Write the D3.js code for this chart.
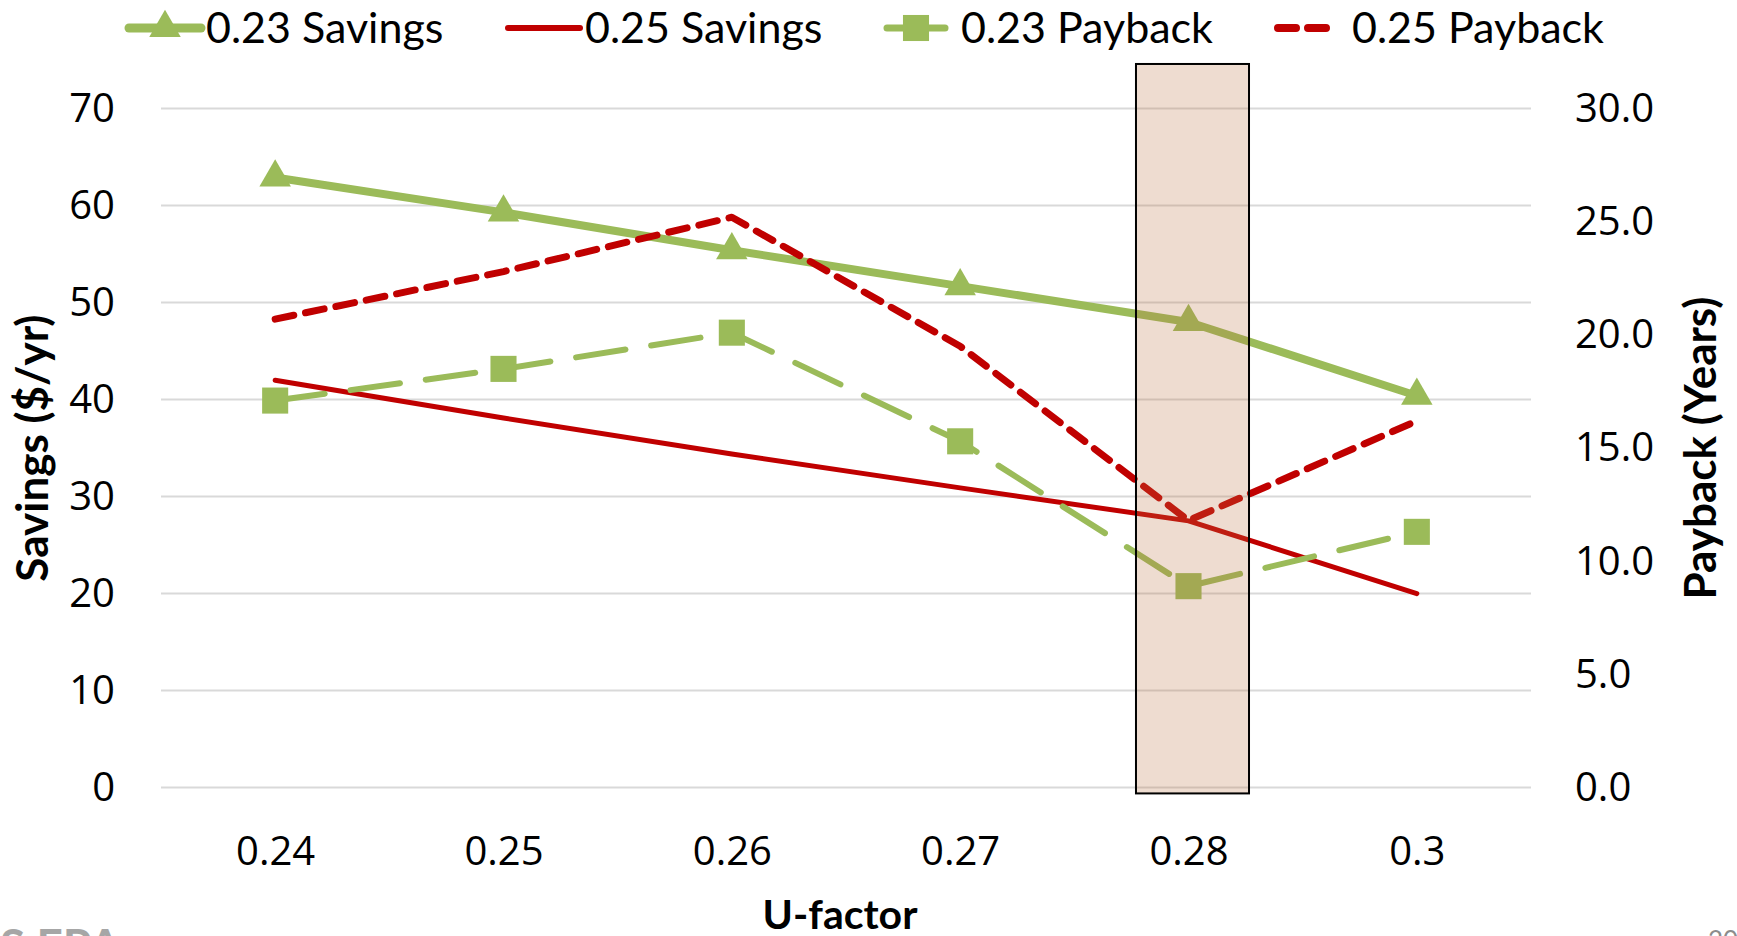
<!DOCTYPE html>
<meta charset="utf-8">
<body style="margin:0;background-color:white;">
<svg width="1737" height="936"></svg>
<script src="https://d3js.org/d3.v7.min.js"></script>
<script>

var uFactors = ["0.24", "0.25", "0.26", "0.27", "0.28", "0.3"];
var savings023 = [62.9, 59.3, 55.4, 51.7, 48.0, 40.4];
var savings025 = [42.0, 38.1, 34.4, 30.9, 27.5, 20.0];
var payback023 = [17.1, 18.5, 20.1, 15.3, 8.9, 11.3];
var payback025 = [20.7, 22.8, 25.2, 19.5, 11.8, 16.2];
var leftTicks = [0, 10, 20, 30, 40, 50, 60, 70];
var rightTicks = [0, 5, 10, 15, 20, 25, 30];
var highlightCat = "0.28";

var svg = d3.select("svg");
var green = "#9BBB59", red = "#C00000";
var plotLeft = 161, plotRight = 1531, plotTop = 108.6, plotBottom = 787.6;

var x = d3.scalePoint().domain(uFactors).range([plotLeft, plotRight]).padding(0.5);
var yL = d3.scaleLinear().domain([0, 70]).range([plotBottom, plotTop]);
var yR = d3.scaleLinear().domain([0, 30]).range([plotBottom, plotTop]);

// gridlines
svg.append('g').selectAll('line').data(leftTicks).enter().append('line')
	.attr('x1', plotLeft).attr('x2', plotRight)
	.attr('y1', d => yL(d)).attr('y2', d => yL(d))
	.attr('stroke', '#d9d9d9').attr('stroke-width', 2);

// axes (labels only)
var axL = svg.append('g').attr('transform', 'translate(' + (plotLeft - 46) + ',0)')
	.call(d3.axisLeft(yL).tickValues(leftTicks).tickSize(0).tickPadding(0));
var axR = svg.append('g').attr('transform', 'translate(' + (plotRight + 44) + ',0)')
	.call(d3.axisRight(yR).tickValues(rightTicks).tickFormat(d3.format('.1f')).tickSize(0).tickPadding(0));
var axB = svg.append('g').attr('transform', 'translate(0,' + (plotBottom + 47) + ')')
	.call(d3.axisBottom(x).tickSize(0).tickPadding(0));
[axL, axR, axB].forEach(function(a) {
	a.select('.domain').remove();
	a.selectAll('text').style('font-family', '"Open Sans", sans-serif').style('font-size', '40px').attr('fill', 'black');
});
axB.selectAll('text').attr('dy', '0.75em');

// axis titles
svg.append('text').attr('transform', 'translate(48,' + (plotTop + plotBottom) / 2 + ')rotate(-90)')
	.attr('text-anchor', 'middle').style('font-family', 'Lato, sans-serif').style('font-weight', 'bold')
	.style('font-size', '44px').text('Savings ($/yr)');
svg.append('text').attr('transform', 'translate(1716,' + (plotTop + plotBottom) / 2 + ')rotate(-90)')
	.attr('text-anchor', 'middle').style('font-family', 'Lato, sans-serif').style('font-weight', 'bold')
	.style('font-size', '44px').text('Payback (Years)');
svg.append('text').attr('x', (plotLeft + plotRight) / 2 - 6).attr('y', 929)
	.attr('text-anchor', 'middle').style('font-family', 'Lato, sans-serif').style('font-weight', 'bold')
	.style('font-size', '41px').text('U-factor');

// series
var series = [
	{name: '0.23 Savings', vals: savings023, y: yL, color: green, width: 8, dash: null, marker: d3.symbolTriangle, msize: 430},
	{name: '0.25 Savings', vals: savings025, y: yL, color: red, width: 5, dash: null, marker: null},
	{name: '0.23 Payback', vals: payback023, y: yR, color: green, width: 6, dash: '50,26', marker: d3.symbolSquare, msize: 680},
	{name: '0.25 Payback', vals: payback025, y: yR, color: red, width: 7, dash: '19,12', marker: null}
];

var plot = svg.append('g');
series.forEach(function(s) {
	var line = d3.line().x((d, i) => x(uFactors[i])).y(d => s.y(d));
	plot.append('path').attr('d', line(s.vals))
		.attr('fill', 'none').attr('stroke', s.color).attr('stroke-width', s.width)
		.attr('stroke-dasharray', s.dash).attr('stroke-linecap', 'round').attr('stroke-linejoin', 'round');
	if (s.marker) {
		plot.append('g').selectAll('path').data(s.vals).enter().append('path')
			.attr('d', d3.symbol().type(s.marker).size(s.msize))
			.attr('transform', (d, i) => 'translate(' + x(uFactors[i]) + ',' + s.y(d) + ')')
			.attr('fill', s.color);
	}
});

// highlight box over 0.28
var step = x.step();
svg.append('rect')
	.attr('x', x(highlightCat) - step * 0.23).attr('width', step * 0.495)
	.attr('y', yL(74.6)).attr('height', yL(-0.6) - yL(74.6))
	.attr('fill', 'rgb(187,115,67)').attr('fill-opacity', 0.25)
	.attr('stroke', 'black').attr('stroke-width', 2);

// legend
var legendX = [125, 504, 883, 1274];
var legend = svg.append('g').attr('transform', 'translate(0,28)');
series.forEach(function(s, i) {
	var g = legend.append('g').attr('transform', 'translate(' + legendX[i] + ',0)');
	var len = i >= 2 ? 66 : 80;
	g.append('line').attr('x1', 4).attr('x2', len - 4).attr('y1', 0).attr('y2', 0)
		.attr('stroke', s.color).attr('stroke-width', s.width + 1).attr('stroke-linecap', 'round')
		.attr('stroke-dasharray', i == 3 ? '18,12' : null);
	if (s.marker) {
		g.append('path').attr('d', d3.symbol().type(s.marker).size(s.msize))
			.attr('transform', 'translate(' + len / 2 + ',0)').attr('fill', s.color);
	}
	g.append('text').attr('x', len + (i >= 2 ? 12 : 1)).attr('y', 0).attr('dy', '0.35em')
		.style('font-family', 'Lato, sans-serif').style('font-size', '43px').text(s.name);
});

// footer bits
svg.append('text').attr('x', 0).attr('y', 962).style('font-family', 'Lato, sans-serif')
	.style('font-weight', 'bold').style('font-size', '46px').attr('fill', '#a6a6a6').text('S EPA');
svg.append('text').attr('x', 1708).attr('y', 950).style('font-family', 'Lato, sans-serif')
	.style('font-size', '26px').attr('fill', '#8c8c8c').text('20');

</script>
</body>
